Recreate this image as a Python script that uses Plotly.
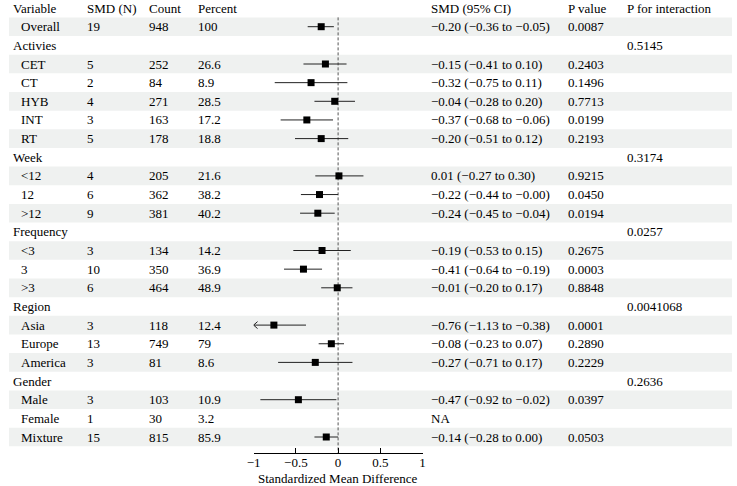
import plotly.graph_objects as go

# ---------------- data ----------------
labels = ["Overall", "Activies", "CET", "CT", "HYB", "INT", "RT", "Week", "<12", "12", ">12",
          "Frequency", "<3", "3", ">3", "Region", "Asia", "Europe", "America", "Gender",
          "Male", "Female", "Mixture"]
is_group = [False, True, False, False, False, False, False, True, False, False, False,
            True, False, False, False, True, False, False, False, True, False, False, False]
smd_n = [19, None, 5, 2, 4, 3, 5, None, 4, 6, 9, None, 3, 10, 6, None, 3, 13, 3, None, 3, 1, 15]
count = [948, None, 252, 84, 271, 163, 178, None, 205, 362, 381, None, 134, 350, 464, None,
         118, 749, 81, None, 103, 30, 815]
percent = [100, None, 26.6, 8.9, 28.5, 17.2, 18.8, None, 21.6, 38.2, 40.2, None, 14.2, 36.9,
           48.9, None, 12.4, 79, 8.6, None, 10.9, 3.2, 85.9]
est = [-0.20, None, -0.15, -0.32, -0.04, -0.37, -0.20, None, 0.01, -0.22, -0.24, None,
       -0.19, -0.41, -0.01, None, -0.76, -0.08, -0.27, None, -0.47, None, -0.14]
low = [-0.36, None, -0.41, -0.75, -0.28, -0.68, -0.51, None, -0.27, -0.44, -0.45, None,
       -0.53, -0.64, -0.20, None, -1.13, -0.23, -0.71, None, -0.92, None, -0.28]
high = [-0.05, None, 0.10, 0.11, 0.20, -0.06, 0.12, None, 0.30, -0.0, -0.04, None,
        0.15, -0.19, 0.17, None, -0.38, 0.07, 0.17, None, -0.02, None, 0.00]
p_value = ["0.0087", "", "0.2403", "0.1496", "0.7713", "0.0199", "0.2193", "", "0.9215",
           "0.0450", "0.0194", "", "0.2675", "0.0003", "0.8848", "", "0.0001", "0.2890",
           "0.2229", "", "0.0397", "", "0.0503"]
p_inter = ["", "0.5145", "", "", "", "", "", "0.3174", "", "", "", "0.0257", "", "", "",
           "0.0041068", "", "", "", "0.2636", "", "", ""]
headers = ["Variable", "SMD (N)", "Count", "Percent", "SMD (95% CI)", "P value", "P for interaction"]
x_ticks = [-1, -0.5, 0, 0.5, 1]
x_min, x_max = -1, 1

# ---------------- layout constants ----------------
W, H = 737, 486
ROW_H, TOP = 18.65, 8.05
AXIS_PX = 453
FONT = "Liberation Serif, Times New Roman, serif"
FS = 13


def px(x):
    return x / W


def fmt(v):
    s = f"{v:.2f}"
    return s.replace("-", "\u2212")


def num(v):
    return "" if v is None else f"{v:g}"


y_bottom = (AXIS_PX - TOP) / ROW_H
y_top = -TOP / ROW_H

fig = go.Figure()

# shading rows
shapes = []
nrows = len(labels) + 1
for i in range(1, nrows):
    if i % 2 == 1:
        shapes.append(dict(type="rect", xref="paper", yref="y", x0=px(2), x1=px(735),
                           y0=i - 0.5, y1=i + 0.5, fillcolor="#eff1f0", line_width=0,
                           layer="below"))
# reference line
shapes.append(dict(type="line", xref="x", yref="y", x0=0, x1=0, y0=0.5, y1=y_bottom,
                   line=dict(color="#555", width=1, dash="3px,2px"), layer="below"))

# CI lines
lx, ly = [], []
arrows_x, arrows_y = [], []
for k, (e, lo, hi) in enumerate(zip(est, low, high)):
    if e is None:
        continue
    r = k + 1
    lo_c = max(lo, x_min)
    hi_c = min(hi, x_max)
    lx += [lo_c, hi_c, None]
    ly += [r, r, None]
    if lo < x_min:
        dx = 4 / 85.7
        dy = 3.5 / ROW_H
        arrows_x += [x_min + dx, x_min, x_min + dx, None]
        arrows_y += [r - dy, r, r + dy, None]

fig.add_trace(go.Scatter(x=lx, y=ly, mode="lines", line=dict(color="#222", width=1),
                         cliponaxis=False, hoverinfo="skip", showlegend=False))
if arrows_x:
    fig.add_trace(go.Scatter(x=arrows_x, y=arrows_y, mode="lines",
                             line=dict(color="#222", width=1), cliponaxis=False,
                             hoverinfo="skip", showlegend=False))
mx = [e for e in est if e is not None]
my = [k + 1 for k, e in enumerate(est) if e is not None]
fig.add_trace(go.Scatter(x=mx, y=my, mode="markers",
                         marker=dict(symbol="square", size=7, color="black"),
                         cliponaxis=False, showlegend=False))

# text
col_x = [5, 80, 142.7, 193, 429, 567.7, 628]
annotations = []


def add_text(x, y, t):
    if t == "":
        return
    annotations.append(dict(x=px(x - 1), y=y, xref="paper", yref="y", text=t,
                            showarrow=False, xanchor="left", yanchor="middle",
                            font=dict(family=FONT, size=FS, color="black")))


for c, h in enumerate(headers):
    add_text(col_x[c], 0, h)

for k in range(len(labels)):
    r = k + 1
    add_text(col_x[0] if is_group[k] else 12.7, r, labels[k])
    add_text(col_x[1], r, num(smd_n[k]))
    add_text(col_x[2], r, num(count[k]))
    add_text(col_x[3], r, num(percent[k]))
    if est[k] is not None:
        ci = f"{fmt(est[k])} ({fmt(low[k])} to {fmt(high[k])})"
    elif not is_group[k]:
        ci = "NA"
    else:
        ci = ""
    add_text(col_x[4], r, ci)
    add_text(col_x[5], r, p_value[k])
    add_text(col_x[6], r, p_inter[k])

annotations.append(dict(x=px(335.7), y=(H - 478.5) / H, xref="paper", yref="paper",
                        text="Standardized Mean Difference", showarrow=False,
                        xanchor="center", yanchor="middle",
                        font=dict(family=FONT, size=FS, color="black")))

fig.update_layout(
    width=W, height=H, margin=dict(l=0, r=0, t=0, b=0),
    paper_bgcolor="white", plot_bgcolor="rgba(0,0,0,0)",
    shapes=shapes, annotations=annotations,
    font=dict(family=FONT, size=FS, color="black"),
    xaxis=dict(domain=[px(250), px(421.3)], range=[x_min, x_max], showgrid=False,
               zeroline=False, showline=True, linecolor="black", linewidth=1,
               ticks="inside", ticklen=5, tickcolor="black", tickwidth=1,
               tickvals=x_ticks, ticklabelstandoff=-3,
               ticktext=[f"{t:g}".replace("-", "\u2212") for t in x_ticks],
               tickfont=dict(family=FONT, size=FS, color="black"), fixedrange=True),
    yaxis=dict(domain=[(H - AXIS_PX) / H, 1], range=[y_bottom, y_top], visible=False,
               fixedrange=True),
)

fig.write_html("out.html")
